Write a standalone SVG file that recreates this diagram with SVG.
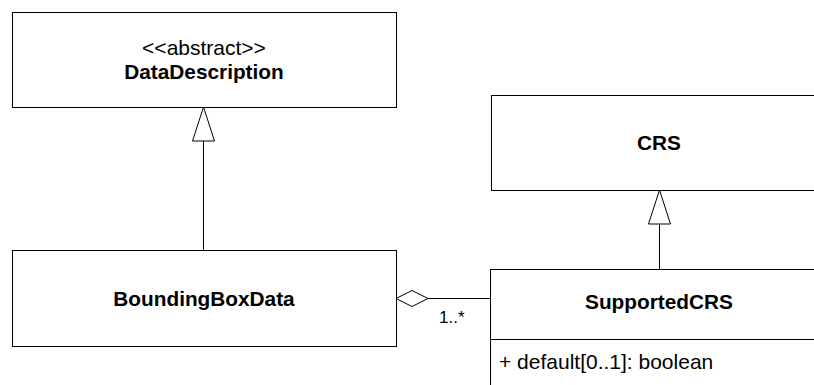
<svg xmlns="http://www.w3.org/2000/svg" width="814" height="385" viewBox="0 0 814 385">
<style>
.box{fill:#fff;stroke:#000;stroke-width:1}
.t{font-family:"Liberation Sans",Arial,sans-serif;fill:#000}
.b{font-weight:bold;font-size:20.8px}
.n{font-size:21px}
.m{font-size:17px}
.ln{stroke:#000;stroke-width:1;fill:none}
.hd{fill:#fff;stroke:#000;stroke-width:1}
</style>
<rect width="814" height="385" fill="#fff"/>
<g id="connectors">
<line class="ln" x1="203.5" y1="141" x2="203.5" y2="250"/>
<polygon class="hd" points="203.5,107 192.5,141 214.5,141"/>
<line class="ln" x1="659.5" y1="224" x2="659.5" y2="269"/>
<polygon class="hd" points="659.5,190 648.5,224 670.5,224"/>
<line class="ln" x1="428" y1="298.5" x2="490" y2="298.5"/>
<polygon class="hd" points="396,298.5 412,290.5 428,298.5 412,306.5"/>
<text class="t m" x="439" y="323">1..*</text>
</g>
<g id="DataDescription">
<rect class="box" x="12.5" y="12.5" width="384" height="95"/>
<text class="t n" x="204" y="55" text-anchor="middle">&lt;&lt;abstract&gt;&gt;</text>
<text class="t b" x="204" y="79" text-anchor="middle">DataDescription</text>
</g>
<g id="CRS">
<rect class="box" x="491.5" y="95.5" width="340" height="95"/>
<text class="t b" x="659" y="150" text-anchor="middle">CRS</text>
</g>
<g id="BoundingBoxData">
<rect class="box" x="12.5" y="250.5" width="384" height="96"/>
<text class="t b" x="204" y="306" text-anchor="middle">BoundingBoxData</text>
</g>
<g id="SupportedCRS">
<rect class="box" x="490.5" y="269.5" width="340" height="130"/>
<line class="ln" x1="490.5" y1="339.5" x2="830" y2="339.5"/>
<text class="t b" x="659" y="309" text-anchor="middle">SupportedCRS</text>
<text class="t n" x="499" y="369">+ default[0..1]: boolean</text>
</g>
</svg>
